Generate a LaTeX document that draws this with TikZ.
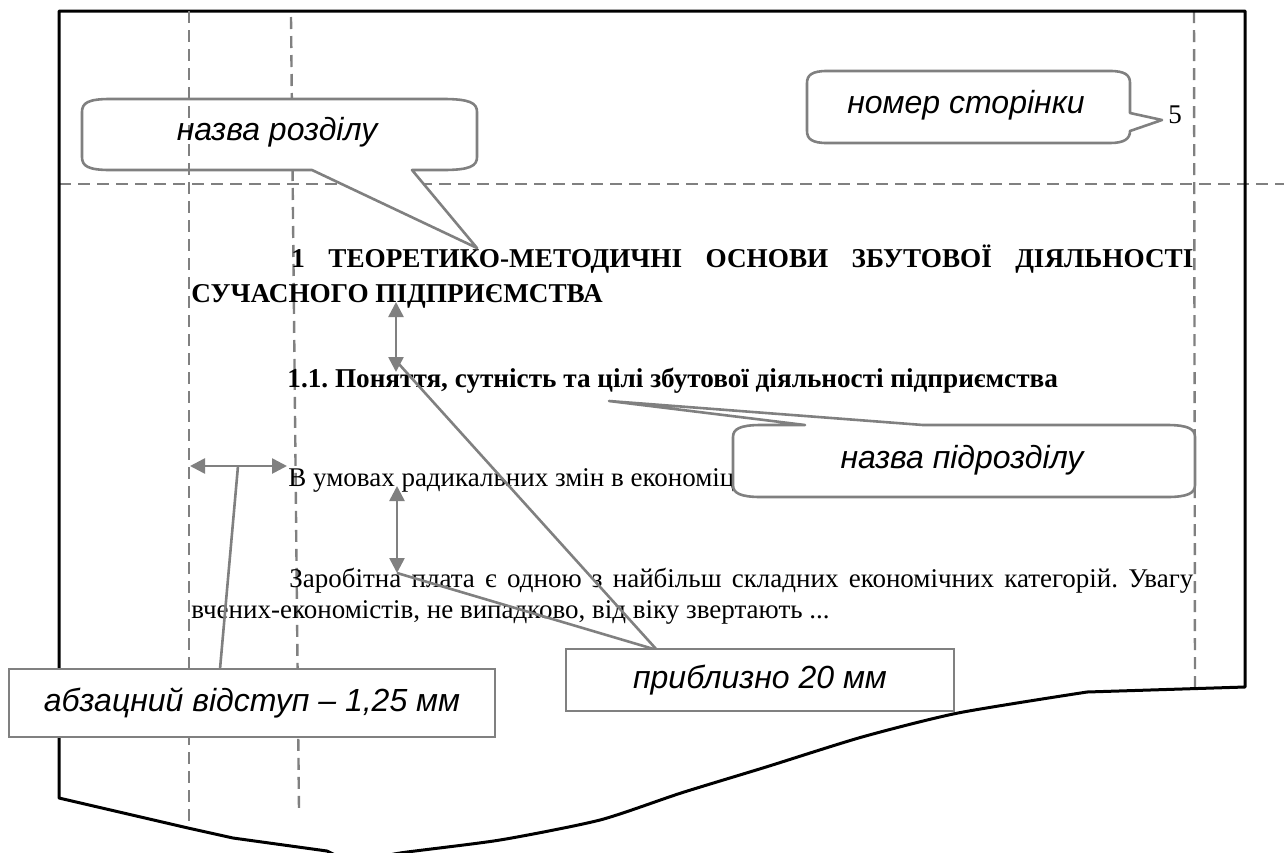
\documentclass[tikz,border=0pt]{standalone}
\usepackage{fontspec}
\setmainfont{Liberation Serif}
\newfontfamily\lblfnt{Liberation Sans}
\usetikzlibrary{arrows.meta}
\frenchspacing
\begin{document}
\frenchspacing
\begin{tikzpicture}[x=0.5pt,y=-0.5pt,
  gline/.style={draw=gray, line width=1.3pt},
  dline/.style={draw=gray, line width=1.2pt, dash pattern=on 6pt off 3.5pt},
  pageline/.style={draw=black, line width=1.5pt, line join=round},
  callout/.style={draw=gray, line width=1.3pt, fill=white, line join=round},
  lbl/.style={font=\lblfnt\itshape\fontsize{16}{19}\selectfont, inner sep=0pt, anchor=base},
  body/.style={font=\fontsize{13.5}{16}\selectfont, inner sep=0pt, anchor=base west},
  hdr/.style={font=\bfseries\fontsize{13.6}{16}\selectfont, inner sep=0pt, anchor=base west},
  rectbox/.style={draw=gray, line width=1.3pt, fill=white, inner sep=0pt,
     font=\lblfnt\itshape\fontsize{16}{19}\selectfont},
  dbl/.style={gline, {Triangle[length=7.5pt,width=7.5pt]}-{Triangle[length=7.5pt,width=7.5pt]}}
]
\useasboundingbox (0,0) rectangle (1284,852);

% guide lines behind
\draw[dline] (291,17) -- (299,810);
\draw[dline] (59,184) -- (1284,184);
\draw[dline] (1194,11) -- (1195,689);

% page outline
\draw[pageline] (345,860) -- (327,851) -- (233,838) -- (188,828) -- (59,798) -- (59,11) -- (1245,11) -- (1245,687) -- (1087,692);
\draw[pageline] plot[smooth, tension=0.4] coordinates {(1087,692) (958,713) (862,737) (766,767) (681,793) (600,820) (500,840) (400,853) (370,860)};

% text of the page
\node[hdr] (h1) at (291,267) {\makebox[451pt][s]{1 ТЕОРЕТИКО-МЕТОДИЧНІ ОСНОВИ ЗБУТОВОЇ ДІЯЛЬНОСТІ}};
\node[hdr] (h2) at (191,302) {СУЧАСНОГО ПІДПРИЄМСТВА};
\node[hdr] (h3) at (287,387) {1.1. Поняття, сутність та цілі збутової діяльності підприємства};
\node[body] (p1) at (288,486) {В умовах радикальних змін в економіц};
\node[body] (p2) at (289,587) {\makebox[452pt][s]{Заробітна плата є одною з найбільш складних економічних категорій. Увагу}};
\node[body] (p3) at (191,618) {вчених-економістів, не випадково, від віку звертають ...};
\node[body] (pg) at (1168,123) {5};

% callout: назва розділу
\coordinate (c1tip) at (477,248);
\draw[callout] (110,99) -- (443,99) .. controls (470,99) and (477,103) .. (477,112) -- (477,157)
  .. controls (477,166) and (470,170) .. (443,170) -- (412,170) -- (c1tip) -- (312,170) -- (110,170)
  .. controls (88,170) and (82,166) .. (82,157) -- (82,112) .. controls (82,103) and (88,99) .. (110,99) -- cycle;

% callout: номер сторінки
\coordinate (c2tip) at (1162,120);
\draw[callout] (827,71) -- (1110,71) .. controls (1125,71) and (1130,75) .. (1130,83) -- (1130,113) -- (c2tip) -- (1130,131)
  .. controls (1130,139) and (1124,143) .. (1110,143) -- (827,143) .. controls (812,143) and (807,139) .. (807,131)
  -- (807,83) .. controls (807,75) and (812,71) .. (827,71) -- cycle;

% callout: назва підрозділу
\coordinate (c3tip) at (609,401);
\draw[callout] (761,425) -- (805,425) -- (c3tip) -- (923,425) -- (1167,425) .. controls (1188,425) and (1195,429) .. (1195,437)
  -- (1195,485) .. controls (1195,493) and (1188,497) .. (1167,497) -- (761,497)
  .. controls (740,497) and (733,493) .. (733,485) -- (733,437) .. controls (733,429) and (740,425) .. (761,425) -- cycle;

% guide line in front of the first callout
\draw[dline] (189,11) -- (189,826);

% measuring arrows
\coordinate (a1t) at (396,302);
\coordinate (a1b) at (396,372);
\coordinate (a1s) at (398,363);
\coordinate (a2t) at (397,486);
\coordinate (a2b) at (397,573);
\coordinate (hl) at (190,466);
\coordinate (hr) at (287,466);
\coordinate (hm) at (238,466);
\coordinate (apex) at (657,650);
\coordinate (abzTop) at (220,669);
\draw[dbl] (a1t) -- (a1b);
\draw[dbl] (a2t) -- (a2b);
\draw[dbl] (hl) -- (hr);
\draw[gline] (a1s) -- (apex);
\draw[gline] (a2b) -- (apex);
\draw[gline] (hm) -- (abzTop);

% rectangular boxes
\node[rectbox, minimum width=243pt, minimum height=34pt] (abz) at (252,703) {абзацний відступ – 1,25 мм};
\node[rectbox, minimum width=194pt, minimum height=31pt] (pr) at (760,680) {приблизно 20 мм};

% callout labels
\node[lbl] (l1) at (277,140) {назва розділу};
\node[lbl] (l2) at (966,113) {номер сторінки};
\node[lbl] (l3) at (962,468) {назва підрозділу};
\end{tikzpicture}
\end{document}
